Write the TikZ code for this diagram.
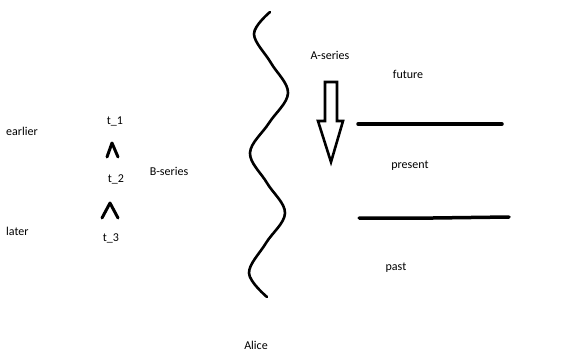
\documentclass[tikz,border=0pt]{standalone}
\usepackage{fontspec}
\setmainfont{Carlito}
\tikzset{
  lbl/.style={inner sep=0pt, font=\fontsize{12}{14}\selectfont},
  caret/.style={line width=3pt, line cap=round, line join=round},
  bar/.style={line width=3.5pt, line cap=round},
  wave/.style={line width=2.6pt, line cap=round},
  hollow/.style={line width=2.6pt, line join=miter}
}
\begin{document}
\begin{tikzpicture}[x=1pt,y=-1pt]
\useasboundingbox (0,0) rectangle (570,356);
\fill[white] (0,0) rectangle (570,356);
% left labels
\node[lbl, anchor=west] (earlier) at (6,131) {earlier};
\node[lbl, anchor=west] (later) at (6,231) {later};
\node[lbl] (t1) at (115,121) {t\_1};
\node[lbl] (t2) at (116,179) {t\_2};
\node[lbl] (t3) at (111,238) {t\_3};
\node[lbl] (bser) at (169,171) {B-series};
% carets
\draw[caret] (107,157) -- (112,143) -- (118,157);
\draw[caret] (102,218) -- (110,203) -- (118,218);
% wavy line
\draw[wave] plot[smooth, tension=0.6] coordinates {(270,12) (254,34) (271,63) (288,93) (269,123) (250,153) (267,183) (285,213) (266,243) (249,273) (267,297)};
% A-series
\node[lbl] (aser) at (330,55) {A-series};
\draw[hollow] (325,82) -- (337,82) -- (337,121) -- (343,121) -- (331,162) -- (318,121) -- (325,121) -- cycle;
\node[lbl] (future) at (408,74) {future};
\node[lbl] (present) at (410,166) {present};
\node[lbl] (past) at (396,268) {past};
\node[lbl] (alice) at (256,345) {Alice};
\coordinate (l1a) at (358,124);
\coordinate (l1b) at (502,124);
\coordinate (l2a) at (359,218);
\coordinate (l2m) at (433,218);
\coordinate (l2b) at (509,217);
\draw[bar] (l1a) -- (l1b);
\draw[bar] (l2a) -- (l2m) -- (l2b);
\end{tikzpicture}
\end{document}
